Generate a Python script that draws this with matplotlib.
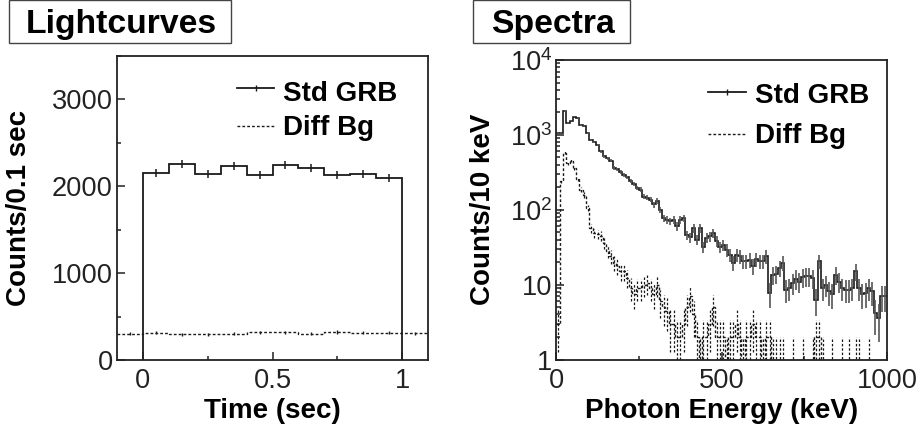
import numpy as np
import matplotlib
matplotlib.use("Agg")
import matplotlib.pyplot as plt
from matplotlib.ticker import MultipleLocator, FixedLocator, FixedFormatter, LogLocator, NullFormatter
from matplotlib.patches import Rectangle

plt.rcParams['font.family'] = ['Liberation Sans', 'DejaVu Sans']
plt.rcParams['mathtext.fontset'] = 'custom'
plt.rcParams['mathtext.rm'] = 'Liberation Sans'

# ---------------- data ----------------
lc_edges = [0.0, 0.1, 0.2, 0.3, 0.4, 0.5, 0.6, 0.7, 0.8, 0.9, 1.0]
lc_grb = [2150, 2257, 2146, 2234, 2135, 2242, 2208, 2127, 2142, 2092]
lc_bg_edges = [-0.1, 0.0, 0.1, 0.2, 0.3, 0.4, 0.5, 0.6, 0.7, 0.8, 0.9, 1.0, 1.1]
lc_bg = [300, 312, 296, 294, 300, 318, 318, 304, 322, 312, 314, 306]

sp_edges = list(range(0, 1010, 10))
sp_grb = [1050, 1050, 2090, 1430, 1550, 1750, 1680, 1360, 1300, 1050,
          860, 800, 735, 600, 515, 490, 450, 360, 345, 318,
          295, 270, 245, 220, 195, 186, 150, 145, 137, 118,
          130, 100, 77, 74, 70, 74, 60, 74, 77, 46,
          43, 57, 40, 57, 32, 42, 44, 49, 38, 32,
          34, 29, 25, 19.5, 25, 24, 20.5, 20.5, 21.5, 17.5,
          22, 20.5, 20.5, 24, 7.7, 13.6, 14, 16.7, 19.5, 8.6,
          9, 10.5, 12, 11, 12.5, 13, 13, 12.3, 6.3, 20.5,
          9, 10, 8.1, 7.4, 13.6, 11, 9, 8.6, 8.6, 9,
          15, 9, 7.4, 7.7, 9, 8.1, 4.2, 3.6, 7, 7]
sp_bg = [3, 240, 580, 420, 450, 360, 260, 185, 158, 106,
         57, 49, 47, 45, 36, 28, 24, 19.5, 17.5, 15,
         15, 12.4, 9.1, 7.4, 9, 9, 10, 10.5, 9, 7.5,
         10, 6, 5, 4.5, 3, 3, 2, 2, 3, 5,
         7, 4, 2, 1, 2, 2, 3, 5, 2, 2,
         2, 1, 2, 2, 3, 2, 1, 2, 2, 3,
         2, 2, 1, 2, 2, 1, 1, 1, 1, 0,
         0, 1, 0, 0, 1, 0, 0, 1, 2, 2,
         1, 0, 0, 1, 0, 0, 1, 0, 1, 0,
         1, 1, 0, 0, 1, 0, 0, 0, 0, 0]

labels_series = ["Std GRB", "Diff Bg"]

# ---------------- figure ----------------
W, H = 922, 428
fig = plt.figure(figsize=(W / 100, H / 100), dpi=100)

def fx(px):
    return px / W

def fy(py):
    return 1 - py / H

ax1 = fig.add_axes([fx(117), fy(360), fx(428 - 117), (360 - 56) / H])
ax2 = fig.add_axes([fx(556.3), fy(359.5), fx(887 - 556.3), (359.5 - 60) / H])

blk = '#1a1a1a'
dash = (0, (2.0, 1.5))
TICK = 19.6
LAB = 20

for ax in (ax1, ax2):
    for s in ax.spines.values():
        s.set_linewidth(1.3)
        s.set_color('#222222')
    ax.tick_params(which='both', direction='in', top=False, right=False, colors='#222222',
                   labelsize=TICK, width=1.1)
    ax.tick_params(which='major', length=6)
    ax.tick_params(which='minor', length=3)
    ax.tick_params(axis='y', pad=3)
    ax.tick_params(axis='x', pad=6)

# ---- lightcurves ----
lc_edges_a = np.array(lc_edges)
lc_grb_a = np.array(lc_grb, dtype=float)
ax1.stairs(lc_grb_a, lc_edges_a, baseline=0, color=blk, lw=1.3)
cen = 0.5 * (lc_edges_a[:-1] + lc_edges_a[1:])
err = np.sqrt(lc_grb_a)
ax1.vlines(cen, lc_grb_a - err, lc_grb_a + err, color=blk, lw=1.1)

lcb_e = np.array(lc_bg_edges)
lcb = np.array(lc_bg, dtype=float)
ax1.stairs(lcb, lcb_e, baseline=None, color=blk, lw=1.0, linestyle=dash)
cenb = 0.5 * (lcb_e[:-1] + lcb_e[1:])
errb = np.sqrt(lcb)
ax1.vlines(cenb, lcb - errb, lcb + errb, color=blk, lw=1.0)

ax1.set_xlim(-0.1, 1.1)
ax1.set_ylim(0, 3500)
ax1.xaxis.set_major_locator(FixedLocator([0, 0.5, 1]))
ax1.xaxis.set_major_formatter(FixedFormatter(['0', '0.5', '1']))
ax1.xaxis.set_minor_locator(FixedLocator([0.25, 0.75]))
ax1.yaxis.set_major_locator(FixedLocator([0, 1000, 2000, 3000]))
ax1.yaxis.set_major_formatter(FixedFormatter(['0', '1000', '2000', '3000']))
ax1.yaxis.set_minor_locator(FixedLocator([500, 1500, 2500, 3500]))
ax1.set_xlabel('Time (sec)', fontsize=LAB, fontweight='bold', labelpad=3)
ax1.set_ylabel('Counts/0.1 sec', fontsize=LAB, fontweight='bold', labelpad=14)

# ---- spectra ----
sp_e = np.array(sp_edges, dtype=float)
g = np.array(sp_grb, dtype=float)
b = np.array(sp_bg, dtype=float)
ax2.set_yscale('log')
ax2.stairs(np.where(g > 0, g, 1e-3), sp_e, baseline=None, color=blk, lw=1.2)
sc = 0.5 * (sp_e[:-1] + sp_e[1:])
ge = np.sqrt(g)
ax2.vlines(sc, np.maximum(g - ge, 0.05), g + ge, color='#555555', lw=1.2)

ax2.stairs(np.where(b > 0, b, 1e-3), sp_e, baseline=None, color=blk, lw=1.0, linestyle=dash)
m = b > 0
be = np.sqrt(b[m])
ax2.vlines(sc[m], np.maximum(b[m] - be, 0.05), b[m] + be, color=blk, lw=0.9, linestyle=dash)

ax2.set_xlim(0, 1000)
ax2.set_ylim(1, 1e4)
ax2.xaxis.set_major_locator(FixedLocator([0, 500, 1000]))
ax2.xaxis.set_major_formatter(FixedFormatter(['0', '500', '1000']))
ax2.xaxis.set_minor_locator(FixedLocator([250, 750]))
ax2.yaxis.set_major_locator(FixedLocator([1, 10, 100, 1000, 10000]))
ax2.yaxis.set_major_formatter(FixedFormatter(['1', '10', r'$\mathregular{10^{2}}$',
                                              r'$\mathregular{10^{3}}$', r'$\mathregular{10^{4}}$']))
ax2.yaxis.set_minor_locator(LogLocator(base=10, subs=np.arange(2, 10)))
ax2.yaxis.set_minor_formatter(NullFormatter())
ax2.set_xlabel('Photon Energy (keV)', fontsize=LAB, fontweight='bold', labelpad=3)
ax2.set_ylabel('Counts/10 keV', fontsize=LAB, fontweight='bold', labelpad=10)

# ---- legends ----
def legend(ax, x0, x1, x_text, y_l1, y_t1, y_l2, y_t2):
    tr = ax.transAxes
    ax.plot([x0, x1], [y_l1, y_l1], transform=tr, color=blk, lw=1.3, clip_on=False)
    ax.plot([(x0 + x1) / 2], [y_l1], transform=tr, marker='|', ms=5, color=blk, clip_on=False)
    ax.text(x_text, y_t1, labels_series[0], transform=tr, fontsize=LAB, fontweight='bold',
            va='baseline', ha='left')
    ax.plot([x0, x1], [y_l2, y_l2], transform=tr, color=blk, lw=1.0, linestyle=dash, clip_on=False)
    ax.text(x_text, y_t2, labels_series[1], transform=tr, fontsize=LAB, fontweight='bold',
            va='baseline', ha='left')

legend(ax1, 0.386, 0.505, 0.534, 0.894, 0.852, 0.770, 0.740)
legend(ax2, 0.459, 0.574, 0.600, 0.893, 0.857, 0.753, 0.724)

# ---- title boxes ----
for (x0, x1, txt) in [(9, 231, 'Lightcurves'), (473, 630, 'Spectra')]:
    fig.patches.append(Rectangle((fx(x0), fy(43)), fx(x1 - x0), 42.5 / H, transform=fig.transFigure,
                                 fill=False, edgecolor='#444444', lw=1.0))
    fig.text(fx((x0 + x1) / 2 + 1), fy(33), txt, fontsize=24.3, fontweight='bold',
             ha='center', va='baseline')

fig.savefig('out.png', dpi=100)
